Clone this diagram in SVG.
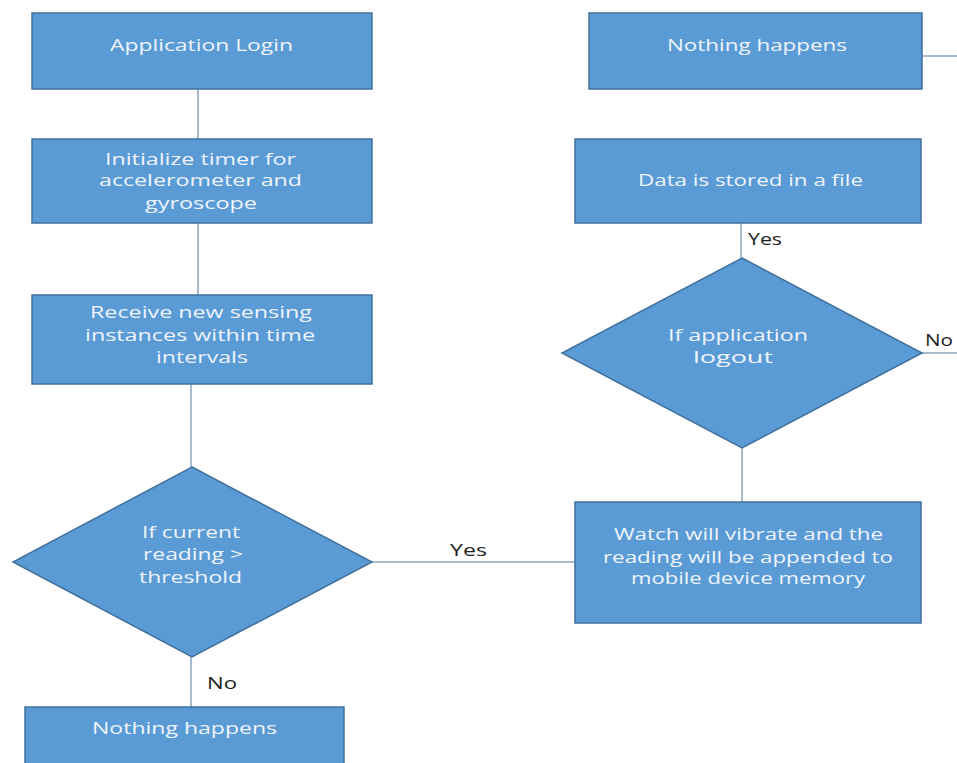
<svg xmlns="http://www.w3.org/2000/svg" width="957" height="763" viewBox="0 0 957 763">
  <style>
    .box { fill: #5b9bd5; stroke: #41719c; stroke-width: 1.5; }
    .link { stroke: #8aa4be; stroke-width: 1.5; fill: none; }
    .t { font-family: "Open Sans", "Noto Sans", sans-serif; font-size: 16.5px; fill: #eef4fb; }
    .lbl { font-family: "Open Sans", "Noto Sans", sans-serif; font-size: 17px; fill: #1e1e1e; }
  </style>
  <rect width="957" height="763" fill="#ffffff"/>

  <!-- connectors -->
  <g id="connectors">
    <line class="link" x1="198" y1="89" x2="198" y2="139"/>
    <line class="link" x1="198" y1="223" x2="198" y2="295"/>
    <line class="link" x1="191" y1="384" x2="191" y2="467"/>
    <line class="link" x1="191" y1="657" x2="191" y2="707"/>
    <line class="link" x1="372" y1="562" x2="575" y2="562"/>
    <line class="link" x1="742" y1="448" x2="742" y2="502"/>
    <line class="link" x1="741" y1="223" x2="741" y2="258"/>
    <line class="link" x1="922" y1="353" x2="957" y2="353"/>
    <line class="link" x1="922" y1="56" x2="957" y2="56"/>
    <text class="lbl" x="450" y="556" textLength="37" lengthAdjust="spacingAndGlyphs">Yes</text>
    <text class="lbl" x="207" y="689" textLength="30" lengthAdjust="spacingAndGlyphs">No</text>
    <text class="lbl" x="748" y="245" textLength="34" lengthAdjust="spacingAndGlyphs">Yes</text>
    <text class="lbl" x="925" y="346" textLength="28" lengthAdjust="spacingAndGlyphs">No</text>
  </g>

  <g id="login">
    <rect class="box" x="32" y="13" width="340" height="76"/>
    <text class="t" x="110" y="51" textLength="183" lengthAdjust="spacingAndGlyphs">Application Login</text>
  </g>

  <g id="init-timer">
    <rect class="box" x="32" y="139" width="340" height="84"/>
    <text class="t" x="105" y="165" textLength="191" lengthAdjust="spacingAndGlyphs">Initialize timer for</text>
    <text class="t" x="99" y="186" textLength="203" lengthAdjust="spacingAndGlyphs">accelerometer and</text>
    <text class="t" x="145" y="209" textLength="112" lengthAdjust="spacingAndGlyphs">gyroscope</text>
  </g>

  <g id="receive">
    <rect class="box" x="32" y="295" width="340" height="89"/>
    <text class="t" x="90" y="318" textLength="222" lengthAdjust="spacingAndGlyphs">Receive new sensing</text>
    <text class="t" x="85" y="341" textLength="230" lengthAdjust="spacingAndGlyphs">instances within time</text>
    <text class="t" x="156" y="363" textLength="92" lengthAdjust="spacingAndGlyphs">intervals</text>
  </g>

  <g id="threshold-check">
    <polygon class="box" points="192,467 372,562 192,657 13,562"/>
    <text class="t" x="142" y="538" textLength="98" lengthAdjust="spacingAndGlyphs">If current</text>
    <text class="t" x="143" y="560" textLength="100" lengthAdjust="spacingAndGlyphs">reading &gt;</text>
    <text class="t" x="139" y="583" textLength="103" lengthAdjust="spacingAndGlyphs">threshold</text>
  </g>

  <g id="nothing-bottom">
    <rect class="box" x="25" y="707" width="319" height="70"/>
    <text class="t" x="92" y="734" textLength="185" lengthAdjust="spacingAndGlyphs">Nothing happens</text>
  </g>

  <g id="nothing-top">
    <rect class="box" x="589" y="13" width="333" height="76"/>
    <text class="t" x="667" y="51" textLength="180" lengthAdjust="spacingAndGlyphs">Nothing happens</text>
  </g>

  <g id="store-file">
    <rect class="box" x="575" y="139" width="346" height="84"/>
    <text class="t" x="638" y="186" textLength="225" lengthAdjust="spacingAndGlyphs">Data is stored in a file</text>
  </g>

  <g id="logout-check">
    <polygon class="box" points="742,258 922,353 742,448 562,353"/>
    <text class="t" x="668" y="341" textLength="140" lengthAdjust="spacingAndGlyphs">If application</text>
    <text class="t" x="693" y="363" textLength="80" lengthAdjust="spacingAndGlyphs">logout</text>
  </g>

  <g id="vibrate-append">
    <rect class="box" x="575" y="502" width="346" height="121"/>
    <text class="t" x="614" y="540" textLength="269" lengthAdjust="spacingAndGlyphs">Watch will vibrate and the</text>
    <text class="t" x="603" y="563" textLength="290" lengthAdjust="spacingAndGlyphs">reading will be appended to</text>
    <text class="t" x="631" y="584" textLength="234" lengthAdjust="spacingAndGlyphs">mobile device memory</text>
  </g>
</svg>
